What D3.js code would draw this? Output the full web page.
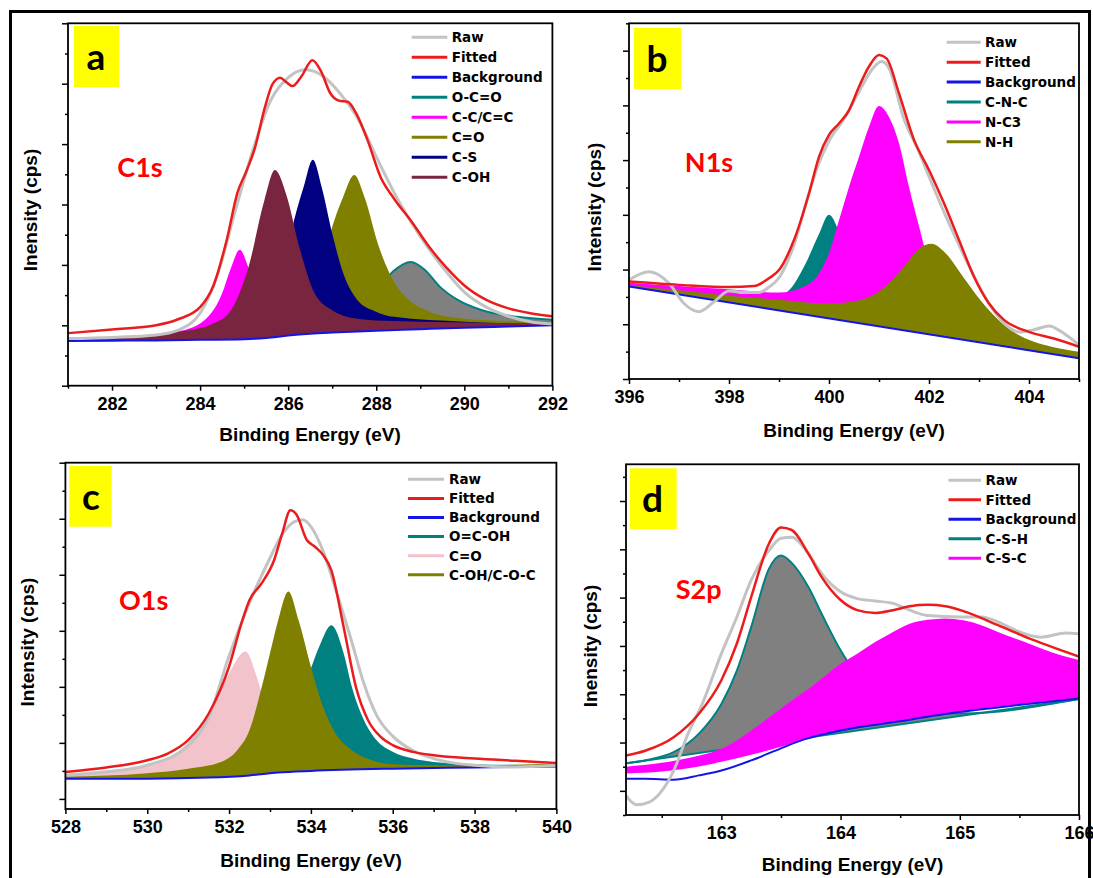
<!DOCTYPE html>
<html>
<head>
<meta charset="utf-8">
<script src="https://cdn.jsdelivr.net/npm/d3@7"></script>
<style>
  body { margin: 0; background: #fff; }
  svg { display: block; }
</style>
</head>
<body>
<svg id="chart" width="1093" height="878"></svg>
<script>
// ---- C1s (panel a) : [binding energy, intensity in tick units]
var c1sBg = [[281,0.74],[282,0.745],[283,0.75],[284,0.76],[285,0.77],[285.5,0.79],[286,0.83],[286.5,0.86],[287,0.88],[288,0.91],[289,0.935],[290,0.96],[291,0.98],[292,1.0]];
var c1sRaw = [[281,0.78],[282,0.80],[283,0.84],[283.5,0.92],[284,1.2],[284.4,1.85],[284.8,2.9],[285.2,3.9],[285.6,4.72],[286,5.1],[286.4,5.23],[286.8,5.12],[287.2,4.82],[287.6,4.4],[288,3.79],[288.5,3.07],[289,2.47],[289.5,1.97],[290,1.55],[290.5,1.3],[291,1.15],[291.5,1.06],[292,1.02]];
var c1sFit = [[281,0.87],[282,0.93],[283,1.0],[283.5,1.1],[284,1.3],[284.3,1.65],[284.6,2.4],[284.85,3.2],[285.05,3.55],[285.25,3.95],[285.45,4.55],[285.65,5.0],[285.82,5.1],[285.95,5.03],[286.1,4.96],[286.3,5.12],[286.55,5.39],[286.75,5.2],[286.95,4.85],[287.15,4.72],[287.35,4.7],[287.55,4.5],[287.8,4.07],[288.1,3.45],[288.4,3.1],[288.8,2.72],[289.2,2.3],[289.6,1.95],[290,1.66],[290.5,1.42],[291,1.28],[291.5,1.2],[292,1.15]];
var c1sOCO = [[281,0.78],[284,0.8],[286,0.9],[287,1.05],[287.57,1.25],[287.98,1.53],[288.38,1.89],[288.79,2.05],[289.1,1.92],[289.44,1.64],[289.85,1.42],[290.4,1.25],[291.2,1.14],[292,1.09]];
var c1sCC = [[281,0.77],[282.5,0.8],[283.3,0.87],[284,1.03],[284.5,1.53],[284.7,1.95],[284.9,2.25],[285.1,1.95],[285.3,1.53],[285.8,1.03],[286.5,0.92],[288,0.93],[292,1.01]];
var c1sCO = [[281,0.78],[284,0.85],[285.1,0.95],[285.8,1.14],[286.44,1.42],[286.76,1.97],[287,2.63],[287.25,3.13],[287.5,3.49],[287.73,3.13],[288.06,2.3],[288.38,1.75],[288.79,1.39],[289.2,1.23],[290,1.11],[291,1.07],[292,1.05]];
var c1sCS = [[281,0.78],[284,0.86],[285.1,1.0],[285.54,1.25],[285.87,1.8],[286.1,2.63],[286.35,3.29],[286.56,3.74],[286.76,3.29],[287,2.52],[287.25,1.86],[287.57,1.42],[287.98,1.23],[288.4,1.14],[290,1.06],[292,1.02]];
var c1sCOH = [[281,0.77],[282.5,0.8],[283.5,0.89],[284.3,1.03],[284.7,1.25],[285.1,1.97],[285.46,3.07],[285.7,3.57],[285.95,3.18],[286.27,2.25],[286.6,1.53],[287,1.25],[287.57,1.11],[288.4,1.07],[292,1.03]];

// ---- N1s (panel b)
var n1sBg = [[396,1.69],[405,0.38]];
var n1sRaw = [[396,1.81],[396.4,1.96],[396.8,1.75],[397.1,1.38],[397.4,1.23],[397.7,1.41],[398,1.61],[398.3,1.58],[398.6,1.58],[398.8,1.68],[399,1.85],[399.3,2.45],[399.6,3.4],[399.8,3.95],[400,4.35],[400.3,4.75],[400.6,5.25],[400.9,5.7],[401.05,5.8],[401.2,5.68],[401.5,4.75],[401.8,4.15],[402,3.7],[402.3,3.05],[402.6,2.45],[402.9,1.88],[403.2,1.38],[403.5,1.02],[403.8,0.86],[404.1,0.9],[404.4,0.97],[404.7,0.83],[405,0.62]];
var n1sFit = [[396,1.78],[397,1.72],[398,1.68],[398.5,1.7],[398.8,1.84],[399,1.99],[399.3,2.54],[399.6,3.39],[399.8,4.06],[400,4.46],[400.2,4.67],[400.4,4.91],[400.6,5.34],[400.8,5.71],[401,5.92],[401.15,5.86],[401.4,5.22],[401.7,4.37],[402,3.82],[402.3,3.21],[402.6,2.54],[402.9,1.87],[403.2,1.38],[403.5,1.08],[404,0.86],[404.5,0.74],[405,0.59]];
var n1sCNC = [[396,1.73],[397,1.59],[398,1.47],[398.8,1.45],[399.2,1.62],[399.5,2.05],[399.8,2.65],[400,3.0],[400.2,2.7],[400.5,1.95],[400.8,1.4],[401.2,1.1],[402,0.88],[403,0.71],[404,0.56],[405,0.41]];
var n1sNC3 = [[396,1.76],[397,1.7],[398,1.64],[399,1.58],[399.5,1.69],[399.8,1.93],[400,2.3],[400.2,2.9],[400.4,3.51],[400.6,4.06],[400.8,4.61],[401,4.99],[401.2,4.79],[401.4,4.31],[401.6,3.51],[401.8,2.79],[402,2.11],[402.3,1.57],[402.7,1.15],[403.2,0.85],[404,0.62],[405,0.45]];
var n1sNH = [[396,1.72],[397,1.62],[398,1.52],[399,1.45],[400,1.38],[400.5,1.42],[401,1.6],[401.5,2.05],[401.8,2.38],[402.05,2.47],[402.33,2.3],[402.68,1.87],[403.03,1.44],[403.39,1.08],[403.74,0.83],[404.1,0.68],[404.45,0.59],[405,0.5]];

// ---- O1s (panel c)
var o1sBg = [[528,0.36],[530,0.36],[531.5,0.38],[532.5,0.42],[533.2,0.47],[534,0.5],[536,0.54],[538,0.56],[540,0.58]];
var o1sRaw = [[528,0.42],[529,0.48],[530,0.6],[531,0.95],[531.5,1.45],[532,2.55],[532.5,3.5],[533,4.3],[533.3,4.72],[533.6,4.95],[533.8,4.98],[534,4.86],[534.3,4.42],[534.6,3.75],[535,2.8],[535.3,2.05],[535.6,1.5],[536,1.12],[536.5,0.86],[537,0.72],[538,0.6],[539,0.57],[540,0.6]];
var o1sFit = [[528,0.48],[529,0.56],[530,0.69],[530.5,0.81],[531,1.05],[531.5,1.52],[532,2.36],[532.3,3.13],[532.5,3.55],[532.8,3.85],[533.1,4.26],[533.3,4.74],[533.5,5.15],[533.65,5.07],[533.9,4.62],[534.1,4.5],[534.3,4.35],[534.5,4.08],[534.8,3.07],[535.1,2.0],[535.4,1.4],[535.7,1.11],[536,0.96],[536.5,0.84],[537,0.78],[538,0.72],[539,0.68],[540,0.64]];
var o1sOCOH = [[528,0.4],[530,0.45],[532,0.6],[533,0.9],[533.5,1.4],[533.9,2.12],[534.2,2.71],[534.5,3.1],[534.8,2.6],[535,2.0],[535.3,1.4],[535.6,1.05],[536,0.84],[536.5,0.72],[537,0.66],[538,0.62],[540,0.6]];
var o1sCO = [[528,0.45],[529,0.51],[530,0.6],[530.8,0.87],[531.2,1.17],[531.6,1.64],[532,2.24],[532.4,2.63],[532.7,2.12],[533,1.35],[533.5,0.75],[534,0.6],[536,0.54],[540,0.6]];
var o1sCOH = [[528,0.4],[530,0.46],[531,0.54],[531.8,0.66],[532.2,0.87],[532.5,1.23],[532.8,2.0],[533,2.6],[533.2,3.19],[533.45,3.7],[533.7,3.19],[534,2.36],[534.3,1.64],[534.6,1.17],[535,0.87],[535.5,0.69],[536,0.62],[537,0.6],[538,0.6],[540,0.63]];

// ---- S2p (panel d)
var s2pBg = [[162.2,0.25],[162.36,0.25],[162.6,0.23],[162.81,0.32],[163,0.42],[163.25,0.63],[163.49,0.87],[163.7,1.07],[164,1.25],[164.44,1.42],[165,1.63],[165.47,1.77],[166,1.91]];
var s2pRaw = [[162.2,-0.1],[162.29,-0.29],[162.39,-0.24],[162.5,0.0],[162.6,0.42],[162.72,1.18],[162.84,1.8],[163,2.84],[163.13,3.6],[163.25,4.36],[163.4,4.98],[163.5,5.23],[163.59,5.25],[163.73,4.91],[163.84,4.5],[164,4.12],[164.14,3.98],[164.29,3.93],[164.44,3.88],[164.58,3.74],[164.73,3.63],[165,3.6],[165.18,3.6],[165.32,3.5],[165.47,3.32],[165.68,3.18],[165.89,3.27],[166,3.25]];
var s2pFit = [[162.2,0.73],[162.36,0.83],[162.6,1.11],[162.81,1.59],[163,2.29],[163.13,3.05],[163.25,4.01],[163.4,5.12],[163.5,5.45],[163.59,5.4],[163.73,4.91],[163.84,4.43],[164,3.95],[164.14,3.74],[164.29,3.68],[164.44,3.74],[164.58,3.82],[164.73,3.85],[164.88,3.82],[165.03,3.72],[165.32,3.43],[165.62,3.12],[166,2.78]];
var s2pBaseH = [[162.2,0.57],[166,1.9]];
var s2pBaseC = [[162.2,0.36],[162.5,0.4],[162.8,0.5],[163,0.6],[163.3,0.78],[163.6,0.98],[164,1.26],[164.5,1.45],[165,1.64],[165.5,1.79],[166,1.92]];
var s2pCSH = [[162.2,0.57],[162.36,0.63],[162.6,0.8],[162.81,1.18],[163,1.8],[163.13,2.49],[163.25,3.39],[163.4,4.6],[163.5,4.87],[163.59,4.72],[163.73,4.22],[163.84,3.67],[164,2.91],[164.11,2.49],[164.29,2.01],[164.44,1.73],[164.73,1.62],[165,1.6],[166,1.9]];
var s2pCSC = [[162.2,0.5],[162.5,0.58],[162.8,0.72],[163,0.87],[163.13,1.04],[163.25,1.25],[163.4,1.52],[163.55,1.8],[163.73,2.11],[163.84,2.32],[164,2.63],[164.14,2.84],[164.29,3.08],[164.44,3.29],[164.58,3.46],[164.73,3.54],[164.88,3.57],[165.03,3.53],[165.18,3.43],[165.32,3.29],[165.47,3.15],[165.62,3.01],[165.77,2.87],[166,2.71]];

// ---- colours
var RAW = "#c3c3c3", FIT = "#ec1c1c", BG = "#1414e6", TEAL = "#008080", MAG = "#ff00ff",
    OLIVE = "#808000", NAVY = "#000080", MAROON = "#7a2540", PINK = "#f3c3cb", GRAY = "#808080";

var svg = d3.select("#chart");
var defs = svg.append("defs");

// outer frame
svg.append("rect")
	.attr("x", 10.5).attr("y", 11.5)
	.attr("width", 1079).attr("height", 880)
	.attr("fill", "none").attr("stroke", "#000").attr("stroke-width", 3);

var panels = [
	{id: "a", letter: "a", title: "C1s", ytitle: "Inensity (cps)",
	 left: 68, right: 552.4, top: 23.3, bottom: 385.7,
	 xDomain: [281, 292], yDomain: [0, 6],
	 xMajor: d3.range(282, 293, 2), xMinor: d3.range(281, 292, 2),
	 yMajor: d3.range(0, 7), yMinor: d3.range(0.5, 6, 1),
	 box: [74, 26, 45, 61], letterPos: [96, 70], titlePos: [140, 168],
	 yTitlePos: [30, 210], xTitlePos: [310, 434],
	 legend: {x1: 411.7, x2: 447.3, tx: 451.7, y0: 37.3, dy: 20},
	 raw: c1sRaw, fit: c1sFit, bg: c1sBg,
	 comps: [
		{name: "O-C=O", color: TEAL, fill: GRAY, data: c1sOCO, base: c1sBg, outline: true},
		{name: "C-C/C=C", color: MAG, fill: MAG, data: c1sCC, base: c1sBg},
		{name: "C=O", color: OLIVE, fill: OLIVE, data: c1sCO, base: c1sBg},
		{name: "C-S", color: NAVY, fill: NAVY, data: c1sCS, base: c1sBg},
		{name: "C-OH", color: MAROON, fill: MAROON, data: c1sCOH, base: c1sBg}
	]},
	{id: "b", letter: "b", title: "N1s", ytitle: "Intensity (cps)",
	 left: 629, right: 1079, top: 23.3, bottom: 379,
	 xDomain: [396, 405], yDomain: [0, 6.5],
	 xMajor: d3.range(396, 405, 2), xMinor: d3.range(397, 406, 2),
	 yMajor: d3.range(0, 7), yMinor: d3.range(0.5, 7, 1),
	 box: [634, 28, 47, 61], letterPos: [657, 71.7], titlePos: [709, 163],
	 yTitlePos: [594.7, 207], xTitlePos: [854, 430],
	 legend: {x1: 946.7, x2: 980.7, tx: 985, y0: 42.3, dy: 19.9},
	 raw: n1sRaw, fit: n1sFit, bg: n1sBg,
	 comps: [
		{name: "C-N-C", color: TEAL, fill: TEAL, data: n1sCNC, base: n1sBg},
		{name: "N-C3", color: MAG, fill: MAG, data: n1sNC3, base: n1sBg},
		{name: "N-H", color: OLIVE, fill: OLIVE, data: n1sNH, base: n1sBg}
	]},
	{id: "c", letter: "c", title: "O1s", ytitle: "Intensity (cps)",
	 left: 65.4, right: 556.4, top: 462.7, bottom: 809,
	 xDomain: [528, 540], yDomain: [-0.18, 6],
	 xMajor: d3.range(528, 541, 2), xMinor: d3.range(529, 540, 2),
	 yMajor: d3.range(0, 7), yMinor: d3.range(0.5, 6, 1),
	 box: [69.3, 466, 42.4, 60.7], letterPos: [91, 510], titlePos: [143.7, 601],
	 yTitlePos: [27, 642], xTitlePos: [311, 860.7],
	 legend: {x1: 408, x2: 444, tx: 449, y0: 479.3, dy: 19.1},
	 raw: o1sRaw, fit: o1sFit, bg: o1sBg,
	 comps: [
		{name: "O=C-OH", color: TEAL, fill: TEAL, data: o1sOCOH, base: o1sBg},
		{name: "C=O", color: PINK, fill: PINK, data: o1sCO, base: o1sBg},
		{name: "C-OH/C-O-C", color: OLIVE, fill: OLIVE, data: o1sCOH, base: o1sBg}
	]},
	{id: "d", letter: "d", title: "S2p", ytitle: "Inensity (cps)",
	 left: 626, right: 1079, top: 464.3, bottom: 815,
	 xDomain: [162.2, 166], yDomain: [-0.5, 6.76],
	 xMajor: [163, 164, 165, 166], xMinor: [162.5, 163.5, 164.5, 165.5],
	 yMajor: d3.range(0, 7), yMinor: d3.range(-0.5, 7, 1),
	 box: [630, 468.3, 46.7, 60.7], letterPos: [652.5, 511.7], titlePos: [698.7, 590],
	 yTitlePos: [590, 646], xTitlePos: [852.5, 864],
	 legend: {x1: 948.5, x2: 981, tx: 985.5, y0: 480.3, dy: 19.5},
	 raw: s2pRaw, fit: s2pFit, bg: s2pBg,
	 comps: [
		{name: "C-S-H", color: TEAL, fill: GRAY, data: s2pCSH, base: s2pBaseH, outline: true, baseLine: true},
		{name: "C-S-C", color: MAG, fill: MAG, data: s2pCSC, base: s2pBaseC}
	]}
];

panels.forEach(drawPanel);

function drawPanel(p) {
	var g = svg.append("g").attr("class", "panel panel-" + p.id);
	var x = d3.scaleLinear().domain(p.xDomain).range([p.left, p.right]);
	var y = d3.scaleLinear().domain(p.yDomain).range([p.bottom, p.top]);
	var line = d3.line()
		.x(function(d) { return x(d[0]); })
		.y(function(d) { return y(d[1]); })
		.curve(d3.curveMonotoneX);

	// plot clip
	defs.append("clipPath").attr("id", "clip-" + p.id)
		.append("rect")
		.attr("x", p.left).attr("y", p.top)
		.attr("width", p.right - p.left).attr("height", p.bottom - p.top);
	var plot = g.append("g").attr("clip-path", "url(#clip-" + p.id + ")");

	// peak fills: curve down to the axis, clipped to what lies above its baseline
	p.comps.forEach(function(c, i) {
		var cid = "base-" + p.id + "-" + i;
		defs.append("clipPath").attr("id", cid)
			.append("path")
			.attr("d", d3.area()
				.x(function(d) { return x(d[0]); })
				.y0(p.top - 5)
				.y1(function(d) { return y(d[1]); })
				.curve(d3.curveMonotoneX)(c.base));
		plot.append("path")
			.attr("clip-path", "url(#" + cid + ")")
			.attr("fill", c.fill)
			.attr("d", d3.area()
				.x(function(d) { return x(d[0]); })
				.y0(p.bottom + 5)
				.y1(function(d) { return y(d[1]); })
				.curve(d3.curveMonotoneX)(c.data));
		if (c.outline) {
			plot.append("path").attr("d", line(c.data))
				.attr("fill", "none").attr("stroke", c.color).attr("stroke-width", 2);
		}
		if (c.baseLine) {
			plot.append("path").attr("d", line(c.base))
				.attr("fill", "none").attr("stroke", c.color).attr("stroke-width", 2);
		}
	});

	plot.append("path").attr("d", line(p.bg))
		.attr("fill", "none").attr("stroke", BG).attr("stroke-width", 2);
	plot.append("path").attr("d", line(p.raw))
		.attr("fill", "none").attr("stroke", RAW).attr("stroke-width", 3);
	plot.append("path").attr("d", line(p.fit))
		.attr("fill", "none").attr("stroke", FIT).attr("stroke-width", 2.5);

	// axes
	var xMaj = g.append("g").attr("transform", "translate(0," + p.bottom + ")")
		.call(d3.axisBottom(x).tickValues(p.xMajor).tickSize(5).tickPadding(3).tickFormat(d3.format("d")));
	var xMin = g.append("g").attr("transform", "translate(0," + p.bottom + ")")
		.call(d3.axisBottom(x).tickValues(p.xMinor).tickSize(3).tickFormat(""));
	var yMaj = g.append("g").attr("transform", "translate(" + p.left + ",0)")
		.call(d3.axisLeft(y).tickValues(p.yMajor).tickSize(6).tickFormat(""));
	var yMin = g.append("g").attr("transform", "translate(" + p.left + ",0)")
		.call(d3.axisLeft(y).tickValues(p.yMinor).tickSize(3).tickFormat(""));
	[xMaj, xMin, yMaj, yMin].forEach(function(a) {
		a.select(".domain").remove();
		a.selectAll(".tick line").attr("stroke", "#000").attr("stroke-width", 1.5);
	});
	xMaj.selectAll(".tick text")
		.attr("y", 18).attr("dy", "0.35em")
		.style("font-family", "'Liberation Sans', Arial, sans-serif")
		.style("font-weight", "bold").style("font-size", "18px").attr("fill", "#000");

	g.append("rect")
		.attr("x", p.left).attr("y", p.top)
		.attr("width", p.right - p.left).attr("height", p.bottom - p.top)
		.attr("fill", "none").attr("stroke", "#000").attr("stroke-width", 1.8);

	// axis titles
	g.append("text")
		.attr("x", p.xTitlePos[0]).attr("y", p.xTitlePos[1]).attr("dy", "0.35em")
		.attr("text-anchor", "middle")
		.style("font-family", "'Liberation Sans', Arial, sans-serif")
		.style("font-weight", "bold").style("font-size", "19px")
		.text("Binding Energy (eV)");
	g.append("text")
		.attr("transform", "translate(" + p.yTitlePos[0] + "," + p.yTitlePos[1] + ") rotate(-90)")
		.attr("dy", "0.35em").attr("text-anchor", "middle")
		.style("font-family", "'Liberation Sans', Arial, sans-serif")
		.style("font-weight", "bold").style("font-size", "19px")
		.text(p.ytitle);

	// panel letter and element label
	g.append("rect")
		.attr("x", p.box[0]).attr("y", p.box[1]).attr("width", p.box[2]).attr("height", p.box[3])
		.attr("fill", "#ffff00");
	g.append("text")
		.attr("x", p.letterPos[0]).attr("y", p.letterPos[1])
		.attr("text-anchor", "middle")
		.style("font-family", "Lato, 'Open Sans', sans-serif")
		.style("font-weight", "bold").style("font-size", "37px")
		.text(p.letter);
	g.append("text")
		.attr("x", p.titlePos[0]).attr("y", p.titlePos[1]).attr("dy", "0.35em")
		.attr("text-anchor", "middle").attr("fill", "#ff0000")
		.style("font-family", "Lato, 'Open Sans', sans-serif")
		.style("font-weight", "bold").style("font-size", "27px")
		.text(p.title);

	// legend
	var items = [
		{name: "Raw", color: RAW},
		{name: "Fitted", color: FIT},
		{name: "Background", color: BG}
	].concat(p.comps.map(function(c) { return {name: c.name, color: c.color}; }));
	var lg = g.append("g").attr("class", "legend");
	items.forEach(function(it, i) {
		var yy = p.legend.y0 + i * p.legend.dy;
		lg.append("line")
			.attr("x1", p.legend.x1).attr("x2", p.legend.x2)
			.attr("y1", yy).attr("y2", yy)
			.attr("stroke", it.color).attr("stroke-width", 3);
		lg.append("text")
			.attr("x", p.legend.tx).attr("y", yy).attr("dy", "0.36em")
			.style("font-family", "'DejaVu Sans', sans-serif")
			.style("font-weight", "bold").style("font-size", "13.5px")
			.text(it.name);
	});
}
</script>
</body>
</html>
